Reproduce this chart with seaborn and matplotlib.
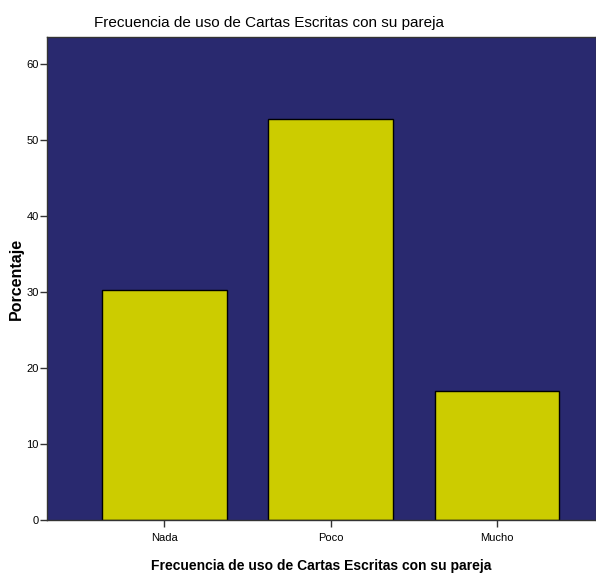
import matplotlib
matplotlib.use('Agg')
import matplotlib.pyplot as plt
import seaborn as sns
import pandas as pd

categorias = ['Nada', 'Poco', 'Mucho']
porcentaje = [30.2, 52.8, 17.0]

df = pd.DataFrame({'categoria': categorias, 'porcentaje': porcentaje})

sns.set_style('ticks')
plt.rcParams['font.family'] = ['Liberation Sans', 'DejaVu Sans']

fig = plt.figure(figsize=(5.96, 5.76), dpi=100)
ax = fig.add_axes([0.079, 0.097, 0.921, 0.8385])
ax.set_facecolor('#29296f')

sns.barplot(x='categoria', y='porcentaje', data=df, color='#cccc00',
            saturation=1, width=0.75, edgecolor='black', linewidth=1, ax=ax)

ax.set_xlim(-0.703, 2.595)
ax.set_ylim(0, 63.5)
ax.set_yticks([0, 10, 20, 30, 40, 50, 60])
ax.tick_params(axis='both', labelsize=8, length=5, width=1, colors='#333333', labelcolor='black')
ax.tick_params(axis='x', pad=4)
ax.tick_params(axis='y', pad=1)
for s in ax.spines.values():
    s.set_color('#333333')
    s.set_linewidth(1)

ax.set_title('Frecuencia de uso de Cartas Escritas con su pareja', fontsize=11, pad=7,
             x=0.405, color='black')
ax.set_xlabel('Frecuencia de uso de Cartas Escritas con su pareja', fontsize=10,
              fontweight='bold', labelpad=12, color='black')
ax.set_ylabel('Porcentaje', fontsize=11.5, fontweight='bold', color='black')
ax.yaxis.set_label_coords(-0.043, 0.5)

fig.savefig('out.png', dpi=100)
